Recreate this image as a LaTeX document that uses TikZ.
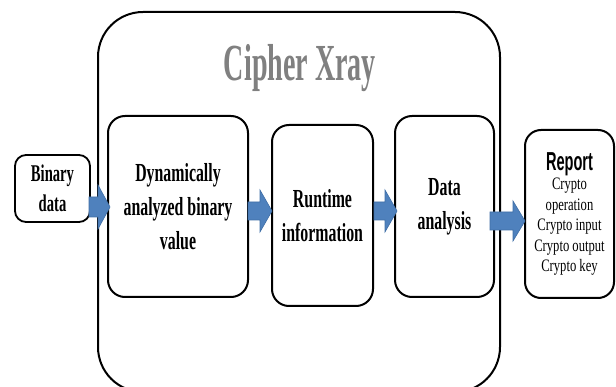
\documentclass[tikz,border=0pt]{standalone}
\usepackage{fontspec}
\setmainfont{Liberation Serif}
\newfontfamily\boxfont[FakeStretch=0.61]{Liberation Serif}
\newfontfamily\titlefont[FakeStretch=0.54]{Liberation Serif}
\newfontfamily\repfont[FakeStretch=0.56]{Liberation Sans}
\newfontfamily\smallfont[FakeStretch=0.72]{Liberation Serif}
\usetikzlibrary{calc}
\definecolor{arrowblue}{HTML}{4F81BD}
\definecolor{arrowedge}{HTML}{3F6EA6}
\definecolor{titlegray}{HTML}{808080}
\newcommand\blockarrow[4]{% start, end, body half-height, head half-height
  \filldraw[arrowblue, draw=arrowedge, line width=0.6pt]
    ($(#1)+(0,-#3)$) -- ($(#2)+(-12,-#3)$) -- ($(#2)+(-12,-#4)$) -- (#2)
    -- ($(#2)+(-12,#4)$) -- ($(#2)+(-12,#3)$) -- ($(#1)+(0,#3)$) -- cycle;}
\begin{document}
\begin{tikzpicture}[x=1pt,y=-1pt,
  box/.style={draw=black, line width=2pt, rounded corners=17pt, fill=white,
    align=center, inner sep=0pt,
    font=\boxfont\bfseries\fontsize{26}{34}\selectfont},
  outerbox/.style={draw=black, line width=2pt, rounded corners=45pt, inner sep=0pt},
]
\useasboundingbox (0,0) rectangle (616,387);
\begin{scope}
\clip (0,0) rectangle (616,387);
\node[outerbox, minimum width=402pt, minimum height=380pt] (xray) at (299,202) {};
\end{scope}
\node[font=\titlefont\bfseries\fontsize{52}{60}\selectfont, text=titlegray] (title) at (300,68) {Cipher Xray};

\node[box, line width=1.8pt, rounded corners=11pt, minimum width=75pt, minimum height=67pt,
  font=\boxfont\bfseries\fontsize{24}{30}\selectfont] (bin) at (52.5,188.5) {Binary\\data};
\node[box, minimum width=140pt, minimum height=181pt] (dyn) at (178,206.5)
  {Dynamically\\analyzed binary\\value};
\node[box, minimum width=101pt, minimum height=181pt] (run) at (322.5,215.5)
  {Runtime\\information};
\node[box, minimum width=99pt, minimum height=181pt] (dat) at (444.5,206.5)
  {Data\\analysis};
\node[box, rounded corners=16pt, minimum width=89pt, minimum height=168pt,
  font=\smallfont\fontsize{17.5}{20.5}\selectfont] (rep) at (569.5,214)
  {{\repfont\bfseries\fontsize{26}{30}\selectfont Report}\\[-1pt]Crypto\\operation\\Crypto input\\Crypto output\\Crypto key};

\coordinate (a1s) at (89,207);  \coordinate (a1e) at (110,207);
\coordinate (a2s) at (248,211); \coordinate (a2e) at (272,211);
\coordinate (a3s) at (374,211); \coordinate (a3e) at (397,211);
\coordinate (a4s) at (490,221); \coordinate (a4e) at (525,221);
\blockarrow{a1s}{a1e}{10}{22}
\blockarrow{a2s}{a2e}{9}{21}
\blockarrow{a3s}{a3e}{9}{21}
\blockarrow{a4s}{a4e}{9}{20}
\end{tikzpicture}
\end{document}
